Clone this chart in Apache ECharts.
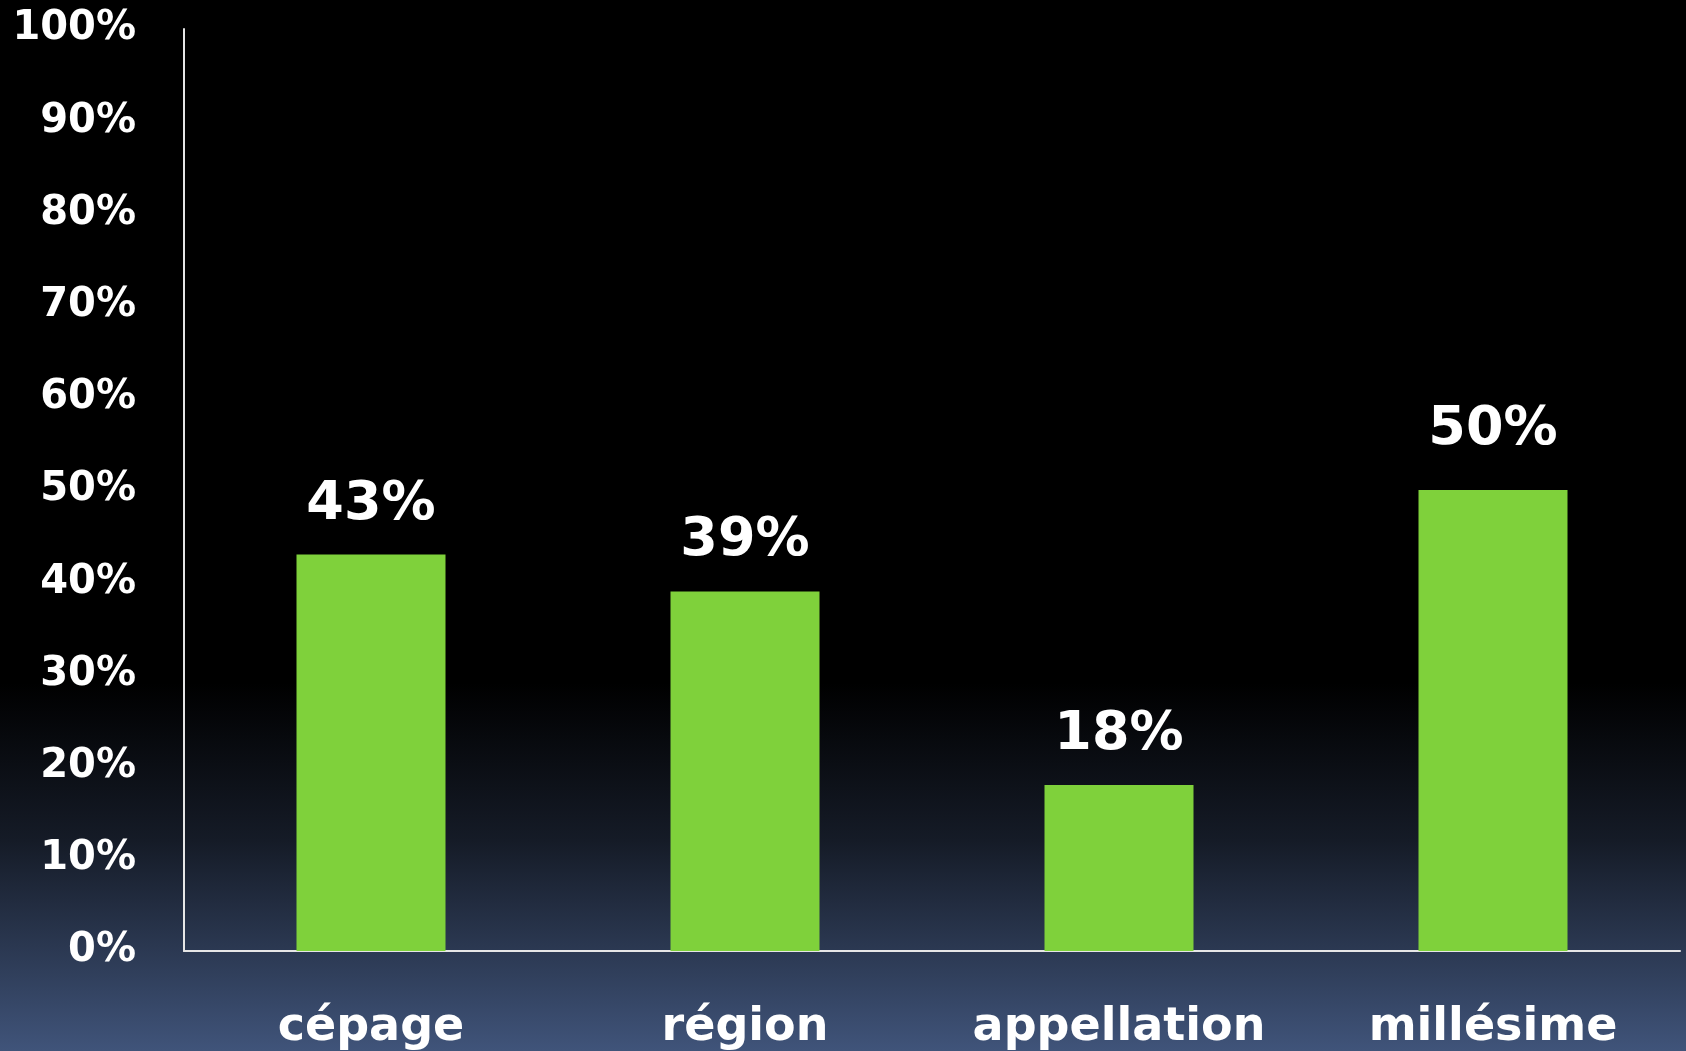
<!DOCTYPE html>
<html>
<head>
<meta charset="utf-8">
<script src="https://cdn.jsdelivr.net/npm/echarts@6/dist/echarts.min.js"></script>
<style>
html,body{margin:0;padding:0;width:100%;height:100%;overflow:hidden;}
#chart{width:1686px;height:1051px;}
</style>
</head>
<body>
<div id="chart"></div>
<script>
const categories = ['cépage', 'région', 'appellation', 'millésime'];
const values = [43, 39, 18, 50];
const yTicks = [0, 10, 20, 30, 40, 50, 60, 70, 80, 90, 100];

const chart = echarts.init(document.getElementById('chart'));
const fontFam = '"DejaVu Sans", "Liberation Sans", Arial, sans-serif';

const seriesData = values.map((v, i) => ({
  value: v,
  label: { distance: i === values.length - 1 ? 33 : 23 }
}));

chart.setOption({
  backgroundColor: {
    type: 'linear', x: 0, y: 0, x2: 0, y2: 1,
    colorStops: [
      { offset: 0, color: '#000000' },
      { offset: 0.65, color: '#000000' },
      { offset: 0.8, color: '#151b27' },
      { offset: 1, color: '#40547a' }
    ]
  },
  animation: false,
  grid: { left: 184, right: 6, top: 29, bottom: 97 },
  xAxis: {
    type: 'category',
    data: categories,
    axisLine: { show: true, lineStyle: { color: '#e6e6e6', width: 2 } },
    axisTick: { show: false },
    axisLabel: {
      interval: 0,
      color: '#ffffff', fontFamily: fontFam, fontWeight: 'bold', fontSize: 46, margin: 54
    }
  },
  yAxis: {
    type: 'value',
    min: yTicks[0], max: yTicks[yTicks.length - 1], interval: 10,
    axisLine: { show: true, lineStyle: { color: '#e6e6e6', width: 2 } },
    axisTick: { show: false },
    splitLine: { show: false },
    axisLabel: {
      color: '#ffffff', fontFamily: fontFam, fontWeight: 'bold', fontSize: 40, margin: 48,
      formatter: v => v + '%'
    }
  },
  series: [{
    type: 'bar',
    data: seriesData,
    barWidth: 149,
    itemStyle: { color: '#7fd13b' },
    label: {
      show: true, position: 'top', color: '#ffffff', fontFamily: fontFam,
      fontWeight: 'bold', fontSize: 54, formatter: p => p.value + '%'
    }
  }]
});
</script>
</body>
</html>
